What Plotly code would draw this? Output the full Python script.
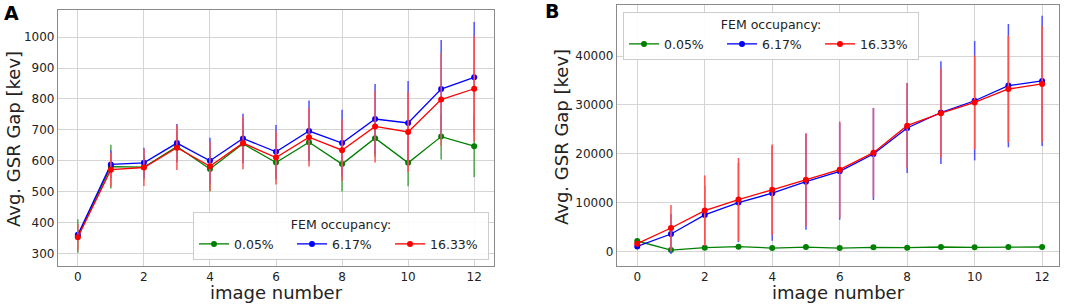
import plotly.graph_objects as go

W, H = 1065, 304

image_number = list(range(13))
series_labels = ["0.05%", "6.17%", "16.33%"]
series_colors = ["#008000", "#0000ff", "#ff0000"]
err_colors = ["#4ea64e", "#5050ff", "#ff5050"]

# Panel A
a_green = [356, 581, 579, 646, 573, 655, 594, 660, 589, 673, 593, 678, 647]
a_green_err = [54, 71, 40, 50, 73, 60, 55, 55, 89, 60, 76, 74, 100]
a_blue = [360, 588, 593, 657, 600, 672, 629, 696, 657, 735, 722, 832, 870]
a_blue_err = [15, 45, 49, 62, 74, 80, 87, 99, 108, 113, 136, 159, 179]
a_red = [352, 571, 578, 642, 582, 657, 610, 676, 634, 711, 693, 798, 833]
a_red_err = [43, 55, 60, 72, 80, 85, 87, 95, 100, 117, 130, 150, 170]

# Panel B
b_green = [2190, 340, 820, 1030, 750, 950, 750, 890, 820, 960, 890, 960, 960]
b_green_err = [250, 200, 200, 200, 200, 200, 200, 200, 200, 200, 200, 200, 200]
b_blue = [1090, 3620, 7520, 10050, 11960, 14310, 16430, 19970, 25290, 28450, 30860, 33950, 34910]
b_blue_err = [500, 4100, 6000, 8100, 9700, 9800, 9900, 9400, 9200, 10500, 12200, 12600, 13300]
b_red = [1640, 4850, 8400, 10660, 12650, 14720, 16770, 20240, 25770, 28320, 30520, 33260, 34300]
b_red_err = [500, 4720, 7200, 8500, 9250, 9500, 9850, 9150, 8700, 9100, 9600, 10900, 11900]

a_vals = [(a_green, a_green_err), (a_blue, a_blue_err), (a_red, a_red_err)]
b_vals = [(b_green, b_green_err), (b_blue, b_blue_err), (b_red, b_red_err)]


def px_x(p):
    return p / W


def px_y(p):
    return 1 - p / H


fig = go.Figure()

for i, (vals, errs) in enumerate(a_vals):
    fig.add_trace(go.Scatter(
        x=image_number, y=vals, mode="lines+markers", name=series_labels[i],
        line=dict(color=series_colors[i], width=1.3),
        marker=dict(color=series_colors[i], size=6),
        error_y=dict(type="data", array=errs, visible=True, color=err_colors[i],
                     thickness=1.5, width=0),
        xaxis="x", yaxis="y", legend="legend", showlegend=True,
    ))

for i, (vals, errs) in enumerate(b_vals):
    fig.add_trace(go.Scatter(
        x=image_number, y=vals, mode="lines+markers", name=series_labels[i],
        line=dict(color=series_colors[i], width=1.3),
        marker=dict(color=series_colors[i], size=6),
        error_y=dict(type="data", array=errs, visible=True, color=err_colors[i],
                     thickness=1.5, width=0),
        xaxis="x2", yaxis="y2", legend="legend2", showlegend=True,
    ))

tick_font = dict(family="DejaVu Sans", size=12, color="#222")
axis_common = dict(
    showgrid=True, gridcolor="#d4d4d4", gridwidth=1.3,
    showline=True, linecolor="#8a8a8a", linewidth=1.3, mirror=True,
    zeroline=False, ticks="", tickfont=tick_font,
)
x_extra = dict(ticklabelstandoff=-1)

legend_common = dict(
    orientation="h",
    bgcolor="rgba(255,255,255,0.9)", bordercolor="#cccccc", borderwidth=1,
    font=dict(family="DejaVu Sans", size=12.5, color="#222"),
    title=dict(text="FEM occupancy:", side="top center",
               font=dict(family="DejaVu Sans", size=12.5, color="#222")),
    entrywidth=53, tracegroupgap=0,
)

fig.update_layout(
    width=W, height=H,
    margin=dict(l=0, r=0, t=0, b=0),
    paper_bgcolor="white", plot_bgcolor="white",
    font=dict(family="DejaVu Sans", color="#222"),
    xaxis=dict(domain=[px_x(58), px_x(494)], range=[-0.6, 12.6],
               tickvals=[0, 2, 4, 6, 8, 10, 12], anchor="y", **axis_common, **x_extra),
    yaxis=dict(domain=[px_y(266), px_y(10)], range=[259, 1088],
               tickvals=[300, 400, 500, 600, 700, 800, 900, 1000], anchor="x", **axis_common),
    xaxis2=dict(domain=[px_x(617), px_x(1059)], range=[-0.6, 12.5],
                tickvals=[0, 2, 4, 6, 8, 10, 12], anchor="y2", **axis_common, **x_extra),
    yaxis2=dict(domain=[px_y(266), px_y(5)], range=[-2920, 50430],
                tickvals=[0, 10000, 20000, 30000, 40000], tickformat="d",
                anchor="x2", **axis_common),
    legend=dict(x=px_x(489), xanchor="right", y=px_y(260), yanchor="bottom", **legend_common),
    legend2=dict(x=px_x(623), xanchor="left", y=px_y(12), yanchor="top", **legend_common),
    showlegend=True,
)

annotations = [
    dict(text="<b>A</b>", x=px_x(11), y=px_y(13), font=dict(size=19, color="black")),
    dict(text="<b>B</b>", x=px_x(552), y=px_y(11), font=dict(size=19, color="black")),
    dict(text="Avg. GSR Gap [kev]", x=px_x(13), y=px_y(139), textangle=-90,
         font=dict(size=18, color="#222")),
    dict(text="Avg. GSR Gap [kev]", x=px_x(562), y=px_y(137), textangle=-90,
         font=dict(size=18, color="#222")),
    dict(text="image number", x=px_x(276), y=px_y(292), font=dict(size=18, color="#222")),
    dict(text="image number", x=px_x(838), y=px_y(292), font=dict(size=18, color="#222")),
]
for a in annotations:
    a.update(xref="paper", yref="paper", showarrow=False, xanchor="center", yanchor="middle")
    a["font"]["family"] = "DejaVu Sans"
fig.update_layout(annotations=annotations)

# remove the default 8px body margin so the figure sits at the window's top-left corner
fig.write_html("out.html", config={"displayModeBar": False},
               post_script="document.body.style.margin='0';")
